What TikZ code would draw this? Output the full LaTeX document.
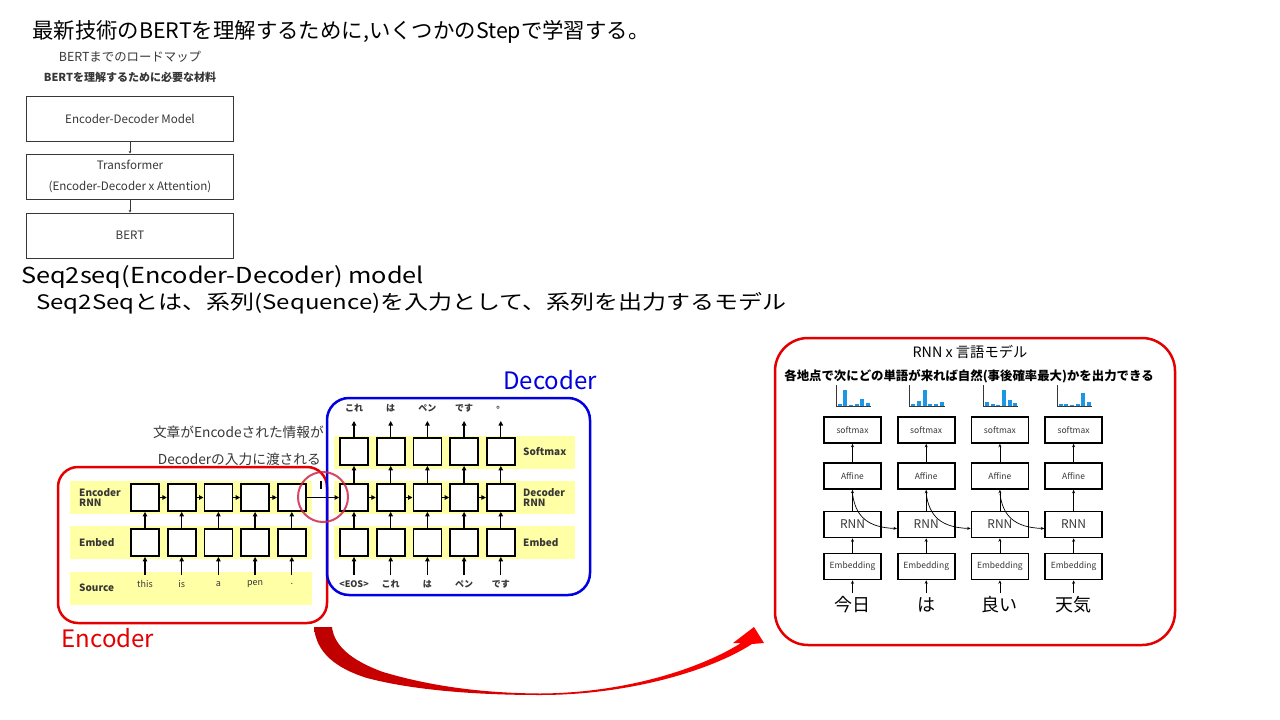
\documentclass[tikz,border=0pt]{standalone}
\usepackage{fontspec}
\setmainfont{Noto Sans CJK JP}
\usetikzlibrary{arrows.meta,calc}
\definecolor{bandyellow}{RGB}{255,255,165}
\definecolor{encred}{RGB}{228,0,0}
\definecolor{decblue}{RGB}{0,0,225}
\definecolor{ringred}{RGB}{205,40,75}
\definecolor{barblue}{RGB}{30,150,230}
\definecolor{darkredA}{RGB}{190,0,0}
\definecolor{brightredA}{RGB}{255,0,0}
\definecolor{txtgray}{RGB}{55,55,55}
\newcommand{\fsz}[1]{\fontsize{#1}{#1}\selectfont}
\begin{document}
\begin{tikzpicture}[x=1pt,y=-1pt,
  rmbox/.style={draw=txtgray, line width=1pt, minimum width=207pt, minimum height=45pt, inner sep=0pt, font=\fsz{11.6}, text=txtgray, align=center},
  ebox/.style={draw, line width=1.8pt, fill=white, minimum width=28pt, minimum height=27pt, inner sep=0pt},
  arr/.style={-{Triangle[length=4.5pt,width=4.5pt]}, line width=1.3pt},
  lbl/.style={font=\fsz{10}\bfseries, anchor=west, align=left, inner sep=0pt, text=txtgray},
  wd/.style={font=\fsz{9}, inner sep=0pt, text=txtgray},
  jwd/.style={font=\fsz{9}\bfseries, inner sep=0pt, text=txtgray},
  lmbox/.style={draw, line width=1.6pt, minimum width=57pt, minimum height=26pt, inner sep=0pt, text=txtgray, font=\fsz{8.5}},
  lmarr/.style={-{Stealth[length=3.5pt,width=3pt]}, line width=0.7pt},
  band/.style={fill=bandyellow, draw=none, inner sep=0pt},
]
\useasboundingbox (0,0) rectangle (1280,720);
\fill[white] (0,0) rectangle (1280,720);

% ---------- header ----------
\node[anchor=west, inner sep=0pt, font=\fsz{21.4}] (title) at (32,32) {最新技術のBERTを理解するために,いくつかのStepで学習する。};
\node[font=\fsz{12.4}, text=txtgray, inner sep=0pt] (rt1) at (130,57) {BERTまでのロードマップ};
\node[font=\fsz{11}\bfseries, text=txtgray, inner sep=0pt] (rt2) at (130,77) {BERTを理解するために必要な材料};
\node[rmbox] (b1) at (130,119) {Encoder-Decoder Model};
\node[rmbox] (b2) at (130,176.5) {Transformer\\[9.4pt](Encoder-Decoder x Attention)};
\node[rmbox] (b3) at (130,235.5) {BERT};
\draw[-{Stealth[length=2.5pt,width=2.5pt]}, line width=0.6pt, txtgray] (b1) -- (b2);
\draw[-{Stealth[length=2.5pt,width=2.5pt]}, line width=0.6pt, txtgray] (b2) -- (b3);
\node[anchor=west, inner sep=0pt, font=\fsz{22}] (s2s) at (21,277) {\scalebox{1.15}[1]{Seq2seq(Encoder-Decoder) model}};
\node[anchor=west, inner sep=0pt, font=\fsz{20}] (s2sd) at (36,303) {\scalebox{1.2}[1]{Seq2Seqとは、系列(Sequence)を入力として、系列を出力するモデル}};

% ---------- encoder / decoder ----------
\node[band, minimum width=242pt, minimum height=33pt] (bandER) at (191,497.5) {};
\node[band, minimum width=242pt, minimum height=33pt] (bandEE) at (191,542.5) {};
\node[band, minimum width=242pt, minimum height=33pt] (bandES) at (191,588.5) {};
\node[band, minimum width=241pt, minimum height=33pt] (bandDS) at (454.5,452) {};
\node[band, minimum width=241pt, minimum height=33pt] (bandDR) at (454.5,497.5) {};
\node[band, minimum width=241pt, minimum height=33pt] (bandDE) at (454.5,542.5) {};

\node[lbl] (lER) at (79,497.5) {Encoder\\RNN};
\node[lbl] (lEE) at (79,543) {Embed};
\node[lbl] (lES) at (79,588) {Source};
\node[lbl] (lDS) at (523,452) {Softmax};
\node[lbl] (lDR) at (523,497.5) {Decoder\\RNN};
\node[lbl] (lDE) at (523,543) {Embed};

\foreach \i/\w in {0/this,1/is,2/a,3/pen,4/.} {
  \node[ebox] (er\i) at ({145+36.7*\i},497.5) {};
  \node[ebox] (ee\i) at ({145+36.7*\i},542.5) {};
  \node[wd] (ew\i) at ({145+36.7*\i},584) {\w};
  \coordinate (es\i) at ({145+36.7*\i},575);
  \draw[arr] (es\i) -- (ee\i.south);
  \draw[arr] (ee\i.north) -- (er\i.south);
}
\foreach \i [evaluate=\i as \j using int(\i+1)] in {0,1,2,3} {
  \draw[arr] (er\i.east) -- (er\j.west);
}
\foreach \i/\a/\b in {0/{<EOS>}/これ,1/これ/は,2/は/ペン,3/ペン/です,4/です/。} {
  \node[ebox] (ds\i) at ({354+36.7*\i},451.5) {};
  \node[ebox] (dr\i) at ({354+36.7*\i},497.5) {};
  \node[ebox] (de\i) at ({354+36.7*\i},542.5) {};
  \node[jwd] (di\i) at ({354+36.7*\i},584) {\a};
  \node[jwd] (do\i) at ({354+36.7*\i},408) {\b};
  \coordinate (dic\i) at ({354+36.7*\i},575);
  \coordinate (doc\i) at ({354+36.7*\i},421);
  \draw[arr] (dic\i) -- (de\i.south);
  \draw[arr] (de\i.north) -- (dr\i.south);
  \draw[arr] (dr\i.north) -- (ds\i.south);
  \draw[arr] (ds\i.north) -- (doc\i);
}
\foreach \i [evaluate=\i as \j using int(\i+1)] in {0,1,2,3} {
  \draw[arr] (dr\i.east) -- (dr\j.west);
}
\draw[arr] (er4.east) -- (dr0.west);
\coordinate (tickA) at (321,481);
\coordinate (tickB) at (321,489);
\draw[line width=1.2pt] (tickA) -- (tickB);

\node[anchor=east, inner sep=0pt, font=\fsz{13.7}, text=txtgray] (cap1) at (324,432) {文章がEncodeされた情報が};
\node[anchor=east, inner sep=0pt, font=\fsz{13.7}, text=txtgray] (cap2) at (321,459) {Decoderの入力に渡される};

\node[draw=encred, line width=2.5pt, rounded corners=20pt, minimum width=269pt, minimum height=156pt, inner sep=0pt] (encframe) at (192.5,545) {};
\node[draw=decblue, line width=2.5pt, rounded corners=22pt, minimum width=263pt, minimum height=197pt, inner sep=0pt] (decframe) at (458.5,496.5) {};
\node[circle, draw=ringred, line width=2pt, minimum size=50pt, inner sep=0pt, opacity=0.85] (ring) at (323,497) {};
\node[anchor=center, inner sep=0pt, font=\fsz{24}, text=decblue] (declabel) at (550,380) {Decoder};
\node[anchor=center, inner sep=0pt, font=\fsz{24}, text=encred] (enclabel) at (108,638) {Encoder};

% ---------- big curved arrow ----------
\shade[left color=darkredA, right color=brightredA]
  (314,627) .. controls (316,652) and (335,668) .. (367,678)
  .. controls (420,692) and (490,695) .. (540,695)
  .. controls (630,695) and (712,670) .. (752,644)
  -- (764,643) -- (754,627) -- (733,643) -- (741,643)
  .. controls (705,666) and (630,693) .. (540,693.5)
  .. controls (470,693) and (420,683) .. (383,672)
  .. controls (350,660) and (334,645) .. (332,627) -- cycle;

% ---------- RNN language model panel ----------
\node[draw=encred, line width=2.5pt, rounded corners=33pt, minimum width=400pt, minimum height=307pt, inner sep=0pt] (lmframe) at (975,491.5) {};
\node[inner sep=0pt, font=\fsz{14.3}] (lmtitle) at (970,352) {RNN x 言語モデル};
\node[inner sep=0pt, font=\fsz{12.4}\bfseries] (lmsub) at (969,376) {各地点で次にどの単語が来れば自然(事後確率最大)かを出力できる};

\foreach \i/\w in {0/今日,1/は,2/良い,3/天気} {
  \node[lmbox] (sm\i) at ({852.5+73.7*\i},430) {softmax};
  \node[lmbox] (af\i) at ({852.5+73.7*\i},476) {Affine};
  \node[lmbox, font=\fsz{12}] (rn\i) at ({852.5+73.7*\i},524.5) {RNN};
  \node[lmbox] (em\i) at ({852.5+73.7*\i},566.5) {Embedding};
  \node[inner sep=0pt, font=\fsz{18}] (lw\i) at ({852.5+73.7*\i},605) {\w};
  \coordinate (lwc\i) at ({852.5+73.7*\i},593);
  \draw[lmarr] (lwc\i) -- (em\i.south);
  \draw[lmarr] (em\i.north) -- (rn\i.south);
  \draw[lmarr] (rn\i.north) -- (af\i.south);
  \draw[lmarr] (af\i.north) -- (sm\i.south);
}
\foreach \i [evaluate=\i as \j using int(\i+1)] in {0,1,2} {
  \draw[lmarr] ($(af\i.south)+(0,4)$) .. controls ($(af\i.south)+(3,26)$) and ($(rn\j.west)+(-30,3)$) .. ($(rn\j.west)+(0,4)$);
}
\foreach \c/\hl in {0/{2,16,0.8,2,6.7,3.3},1/{2,5.3,16,2,2,3.7},2/{3.7,2.3,0.8,16,6,3.3},3/{2,2,0.8,2,12.7,3.7}} {
  \pgfmathsetmacro\ax{852.5+73.7*\c-16.5}
  \foreach \h [count=\k] in \hl {
    \fill[barblue] ({\ax+1.5+5.7*(\k-1)},406) rectangle ++(4,-\h);
  }
  \draw[line width=0.6pt, txtgray] (\ax,385) -- (\ax,406) -- ({\ax+35},406);
}
\end{tikzpicture}
\end{document}
